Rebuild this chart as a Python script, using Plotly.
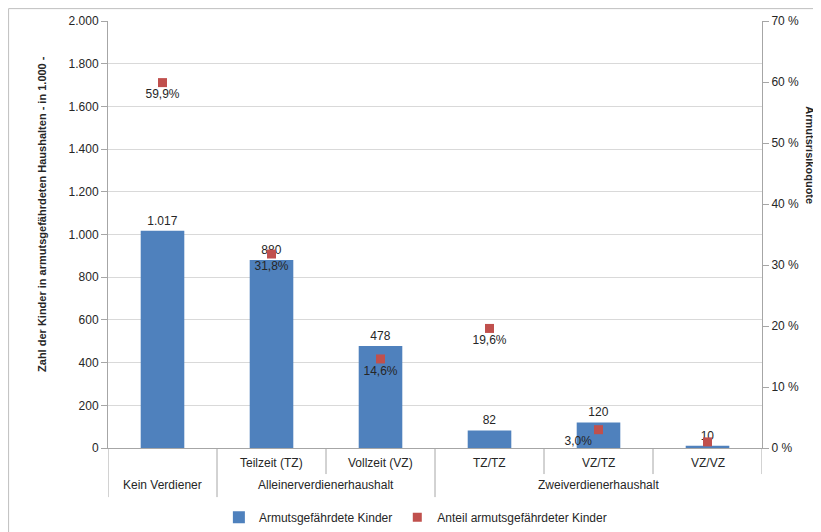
import plotly.graph_objects as go

categories = ["Kein Verdiener", "Teilzeit (TZ)", "Vollzeit (VZ)", "TZ/TZ", "VZ/TZ", "VZ/VZ"]
groups = ["", "Alleinerverdienerhaushalt", "Alleinerverdienerhaushalt",
          "Zweiverdienerhaushalt", "Zweiverdienerhaushalt", "Zweiverdienerhaushalt"]
kinder = [1017, 880, 478, 82, 120, 10]
anteil = [59.9, 31.8, 14.6, 19.6, 3.0, 1.0]
anteil_labels = ["59,9%", "31,8%", "14,6%", "19,6%", "3,0%", ""]
anteil_pos = ["bottom center", "bottom center", "bottom center", "bottom center", "bottom left", "bottom center"]
left_ticks = list(range(0, 2001, 200))
right_ticks = list(range(0, 71, 10))
right_ticktext = [f"{v} %" for v in right_ticks]

FONT = "Liberation Sans, Arial, sans-serif"
TXT = "#262626"
AX = "#A6A6A6"
xs = list(range(len(categories)))

fig = go.Figure()
fig.add_trace(go.Bar(
    x=xs, y=kinder, name="Armutsgefährdete Kinder",
    marker=dict(color="#4F81BD", line=dict(width=0)),
    width=0.4,
    text=kinder, texttemplate="%{y:,d}", textposition="outside",
    textfont=dict(size=12, color=TXT, family=FONT), cliponaxis=False,
))
fig.add_trace(go.Scatter(
    x=xs, y=anteil, yaxis="y2", name="Anteil armutsgefährdeter Kinder",
    mode="markers+text",
    marker=dict(symbol="square", size=9, color="#C0504D"),
    text=anteil_labels, textposition=anteil_pos,
    textfont=dict(size=12, color=TXT, family=FONT), cliponaxis=False,
))

shapes = []
# category separators (boundaries between categories)
for i in range(len(categories) + 1):
    left_g = groups[i - 1] if i > 0 else None
    right_g = groups[i] if i < len(categories) else None
    full = (left_g != right_g) or (left_g == "") or i == 0
    if i == len(categories):
        full = False
    shapes.append(dict(type="line", xref="x", yref="paper",
                       x0=i - 0.5, x1=i - 0.5, y0=0, y1=-0.115 if full else -0.061,
                       line=dict(color=AX, width=1)))
# outer chart border
shapes.append(dict(type="rect", xref="paper", yref="paper",
                   x0=-0.152, x1=1.1, y0=-0.25, y1=1.029,
                   line=dict(color="#BFBFBF", width=1), layer="below"))

lab_font = dict(size=12, color=TXT, family=FONT)
annotations = []
for i, c in enumerate(categories):
    yy = -0.087 if groups[i] == "" else -0.035
    annotations.append(dict(x=i, y=yy, xref="x", yref="paper", text=c,
                            xanchor="center", yanchor="middle",
                            showarrow=False, font=lab_font))
seen = []
for g in groups:
    if g and g not in seen:
        seen.append(g)
        idx = [i for i, gg in enumerate(groups) if gg == g]
        annotations.append(dict(x=sum(idx) / len(idx), y=-0.087, xref="x", yref="paper", text=g,
                                xanchor="center", yanchor="middle",
                                showarrow=False, font=lab_font))
annotations.append(dict(x=-0.101, y=0.548, xref="paper", yref="paper", textangle=-90,
                        xanchor="center", yanchor="middle",
                        text="<b>Zahl der Kinder in armutsgefährdeten Haushalten - in 1.000 -</b>",
                        showarrow=False, font=dict(size=11, color=TXT, family=FONT)))
annotations.append(dict(x=1.073, y=0.686, xref="paper", yref="paper", textangle=90,
                        xanchor="center", yanchor="middle",
                        text="<b>Armutsrisikoquote</b>",
                        showarrow=False, font=dict(size=11, color=TXT, family=FONT)))

# page body has an 8px margin, so the figure is sized to fit the window
fig.update_layout(
    width=813, height=524,
    margin=dict(l=100, r=59, t=13, b=84, autoexpand=False),
    paper_bgcolor="white", plot_bgcolor="white",
    separators=",.",
    font=dict(family=FONT, size=12, color=TXT),
    xaxis=dict(range=[-0.5, len(categories) - 0.5], showticklabels=False, showgrid=False,
               zeroline=False, showline=True, linecolor=AX, ticks="", automargin=False),
    yaxis=dict(range=[0, 2000], tickvals=left_ticks, tickformat=",d", automargin=False,
               showgrid=True, gridcolor="#D9D9D9", zeroline=False,
               showline=True, linecolor=AX, ticks="outside", ticklen=6,
               tickcolor=AX, tickfont=dict(size=12, color=TXT)),
    yaxis2=dict(range=[0, 70], tickvals=right_ticks, ticktext=right_ticktext, overlaying="y",
                side="right", showgrid=False, zeroline=False, automargin=False,
                showline=True, linecolor=AX, ticks="outside", ticklen=6,
                tickcolor=AX, tickfont=dict(size=12, color=TXT)),
    legend=dict(orientation="h", x=0.47, xanchor="center", y=-0.162, yanchor="middle",
                font=dict(size=12, color=TXT), itemwidth=30, tracegroupgap=0),
    showlegend=True,
    shapes=shapes, annotations=annotations,
)
fig.write_html("out.html")
